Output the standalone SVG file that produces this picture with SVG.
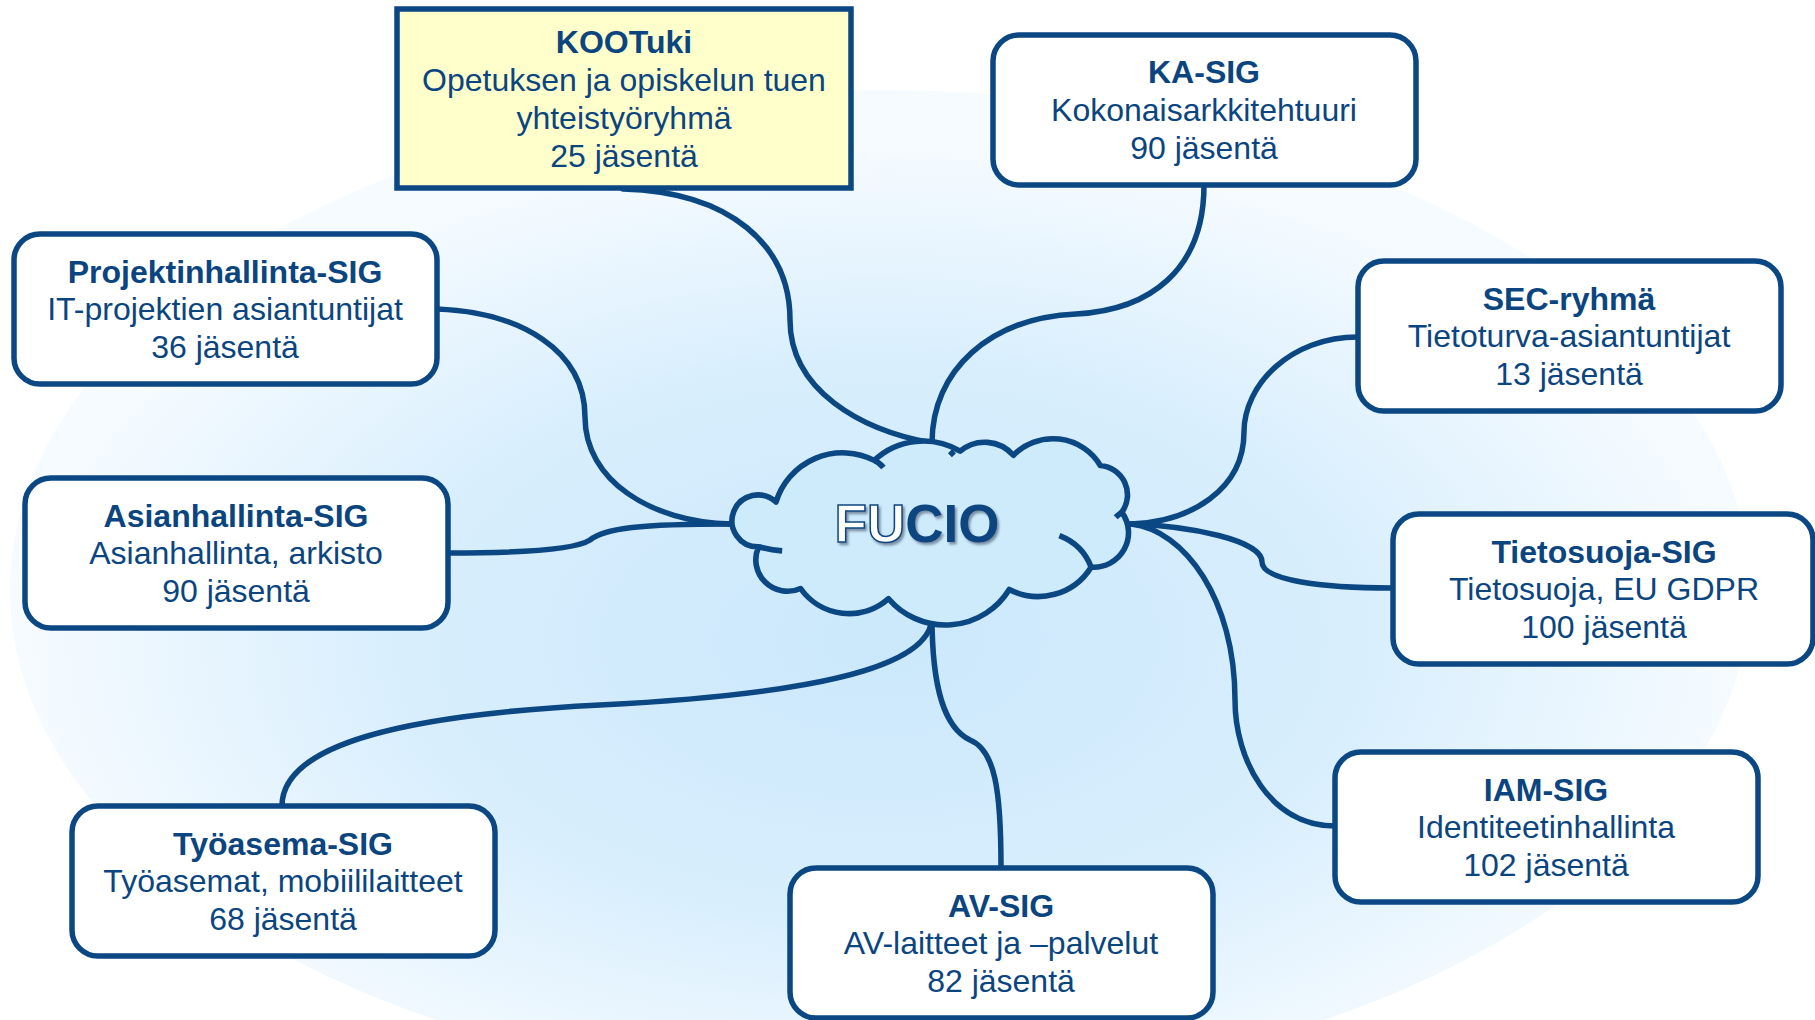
<svg xmlns="http://www.w3.org/2000/svg" width="1815" height="1020" viewBox="0 0 1815 1020">
<defs>
<radialGradient id="bg" cx="0.5" cy="0.55" r="0.5">
<stop offset="0" stop-color="#CBE8FB"/>
<stop offset="0.55" stop-color="#D8EEFD"/>
<stop offset="1" stop-color="#F6FBFF"/>
</radialGradient>
<filter id="shadow" x="-10%" y="-20%" width="130%" height="150%">
<feDropShadow dx="2" dy="2.5" stdDeviation="1.2" flood-color="#3A4A60" flood-opacity="0.55"/>
</filter>
<style>
.box{fill:#FFFFFF;stroke:#0B4783;stroke-width:5.5}
.yel{fill:#FFFFCC;stroke:#0B4783;stroke-width:5.5}
.t{font-family:"Liberation Sans",Arial,sans-serif;font-size:32px;fill:#0B4580;text-anchor:middle}
.b{font-weight:bold}
.conn{fill:none;stroke:#0B4783;stroke-width:5.5;stroke-linecap:round}
.cloud{fill:#CDEBFB;stroke:#0B4783;stroke-width:5.5;stroke-linejoin:round}
.hook{fill:none;stroke:#0B4783;stroke-width:5.5}
</style>
</defs>
<rect x="0" y="0" width="1815" height="1020" fill="#FFFFFF"/>
<ellipse cx="880" cy="590" rx="870" ry="500" fill="url(#bg)"/>

<g id="connectors">
<path class="conn" d="M623,189 C730,192 790,245 790,320 C790,390 860,430 932,443"/>
<path class="conn" d="M1204,185 C1204,270 1150,310 1076,314 C990,318 932,370 932,443"/>
<path class="conn" d="M437,309 C520,312 585,350 585,417 C585,480 650,522 731,524"/>
<path class="conn" d="M449,553 C520,553 575,550 590,540 C605,528 640,524 731,524"/>
<path class="conn" d="M1358,337 C1290,337 1244,385 1244,432 C1244,490 1190,522 1131,524"/>
<path class="conn" d="M1392,588 C1320,588 1262,580 1262,562 C1262,540 1190,526 1131,524"/>
<path class="conn" d="M1335,826 C1270,826 1235,760 1235,700 C1235,600 1185,530 1131,524"/>
<path class="conn" d="M1001,867 C1001,790 995,750 970,740 C945,728 932,690 932,617"/>
<path class="conn" d="M282,806 C282,745 400,715 600,705 C800,695 932,670 932,617"/>
</g>

<g id="fucio">
<g transform="matrix(1.023,0,0,1.017,-11.7,-4.4)">
<path class="cloud" d="M770,498 A68,68 0 0 1 866,457 A70,70 0 0 1 950,448 A37,37 0 0 1 1002,452 A54,54 0 0 1 1087,462 A29,29 0 0 1 1108,508 A34,34 0 0 1 1078,562 A61,61 0 0 1 998,584 A73,73 0 0 1 880,593 A58,58 0 0 1 794,583 A31,31 0 0 1 753,542 A25.5,25.5 0 1 1 770,498 Z"/>
<path class="hook" d="M866,457 Q871,459 875,464"/>
<path class="hook" d="M753,542 Q764,545 776,546"/>
<path class="hook" d="M1047,531 Q1070,540 1078,562"/>
<path class="hook" d="M1108,508 Q1104,511 1102,513"/>
<path class="hook" d="M940,452 L944,448"/>
</g>
<text x="917" y="542" filter="url(#shadow)" style="font-family:'Liberation Sans',Arial,sans-serif;font-size:53px;font-weight:bold" text-anchor="middle"><tspan fill="#FFFFFF" stroke="#0B4580" stroke-width="1.5">FU</tspan><tspan fill="#0B4580">CIO</tspan></text>
</g>

<g id="kootuki">
<rect class="yel" x="397" y="9" width="454" height="179"/>
<text class="t b" x="624" y="53">KOOTuki</text>
<text class="t" x="624" y="91">Opetuksen ja opiskelun tuen</text>
<text class="t" x="624" y="129">yhteistyöryhmä</text>
<text class="t" x="624" y="167">25 jäsentä</text>
</g>

<g id="ka-sig">
<rect class="box" x="993" y="35" width="423" height="150" rx="26"/>
<text class="t b" x="1204" y="83">KA-SIG</text>
<text class="t" x="1204" y="121">Kokonaisarkkitehtuuri</text>
<text class="t" x="1204" y="159">90 jäsentä</text>
</g>

<g id="projektinhallinta-sig">
<rect class="box" x="14" y="234" width="423" height="150" rx="26"/>
<text class="t b" x="225" y="283">Projektinhallinta-SIG</text>
<text class="t" x="225" y="320">IT-projektien asiantuntijat</text>
<text class="t" x="225" y="358">36 jäsentä</text>
</g>

<g id="asianhallinta-sig">
<rect class="box" x="25" y="478" width="423" height="150" rx="26"/>
<text class="t b" x="236" y="527">Asianhallinta-SIG</text>
<text class="t" x="236" y="564">Asianhallinta, arkisto</text>
<text class="t" x="236" y="602">90 jäsentä</text>
</g>

<g id="sec-ryhma">
<rect class="box" x="1358" y="261" width="423" height="150" rx="26"/>
<text class="t b" x="1569" y="310">SEC-ryhmä</text>
<text class="t" x="1569" y="347">Tietoturva-asiantuntijat</text>
<text class="t" x="1569" y="385">13 jäsentä</text>
</g>

<g id="tietosuoja-sig">
<rect class="box" x="1393" y="514" width="420" height="150" rx="26"/>
<text class="t b" x="1604" y="563">Tietosuoja-SIG</text>
<text class="t" x="1604" y="600">Tietosuoja, EU GDPR</text>
<text class="t" x="1604" y="638">100 jäsentä</text>
</g>

<g id="iam-sig">
<rect class="box" x="1335" y="752" width="423" height="150" rx="26"/>
<text class="t b" x="1546" y="801">IAM-SIG</text>
<text class="t" x="1546" y="838">Identiteetinhallinta</text>
<text class="t" x="1546" y="876">102 jäsentä</text>
</g>

<g id="av-sig">
<rect class="box" x="790" y="868" width="423" height="150" rx="26"/>
<text class="t b" x="1001" y="917">AV-SIG</text>
<text class="t" x="1001" y="954">AV-laitteet ja –palvelut</text>
<text class="t" x="1001" y="992">82 jäsentä</text>
</g>

<g id="tyoasema-sig">
<rect class="box" x="72" y="806" width="423" height="150" rx="26"/>
<text class="t b" x="283" y="855">Työasema-SIG</text>
<text class="t" x="283" y="892">Työasemat, mobiililaitteet</text>
<text class="t" x="283" y="930">68 jäsentä</text>
</g>
</svg>
